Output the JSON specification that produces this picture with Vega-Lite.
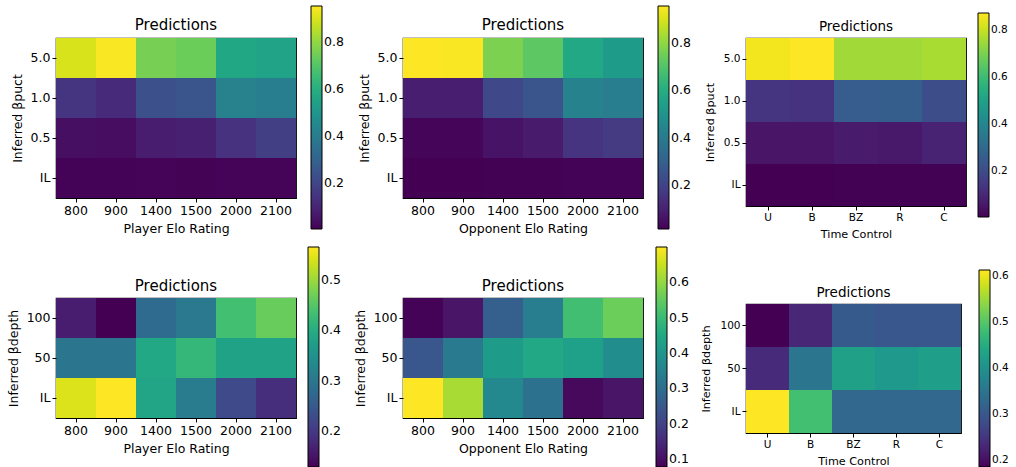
{
  "$schema": "https://vega.github.io/schema/vega-lite/v6.json",
  "padding": {"left": 6, "top": 5, "right": 2, "bottom": 1},
  "background": "white",
  "datasets": {
    "p1": [
      {"x": "800", "y": "5.0", "v": 0.90}, {"x": "900", "y": "5.0", "v": 0.95}, {"x": "1400", "y": "5.0", "v": 0.76}, {"x": "1500", "y": "5.0", "v": 0.74}, {"x": "2000", "y": "5.0", "v": 0.57}, {"x": "2100", "y": "5.0", "v": 0.555},
      {"x": "800", "y": "1.0", "v": 0.15}, {"x": "900", "y": "1.0", "v": 0.12}, {"x": "1400", "y": "1.0", "v": 0.235}, {"x": "1500", "y": "1.0", "v": 0.255}, {"x": "2000", "y": "1.0", "v": 0.42}, {"x": "2100", "y": "1.0", "v": 0.405},
      {"x": "800", "y": "0.5", "v": 0.04}, {"x": "900", "y": "0.5", "v": 0.035}, {"x": "1400", "y": "0.5", "v": 0.075}, {"x": "1500", "y": "0.5", "v": 0.085}, {"x": "2000", "y": "0.5", "v": 0.14}, {"x": "2100", "y": "0.5", "v": 0.18},
      {"x": "800", "y": "IL", "v": 0.01}, {"x": "900", "y": "IL", "v": 0.01}, {"x": "1400", "y": "IL", "v": 0.012}, {"x": "1500", "y": "IL", "v": 0.011}, {"x": "2000", "y": "IL", "v": 0.013}, {"x": "2100", "y": "IL", "v": 0.012}
    ],
    "p2": [
      {"x": "800", "y": "5.0", "v": 0.955}, {"x": "900", "y": "5.0", "v": 0.95}, {"x": "1400", "y": "5.0", "v": 0.77}, {"x": "1500", "y": "5.0", "v": 0.72}, {"x": "2000", "y": "5.0", "v": 0.58}, {"x": "2100", "y": "5.0", "v": 0.53},
      {"x": "800", "y": "1.0", "v": 0.09}, {"x": "900", "y": "1.0", "v": 0.09}, {"x": "1400", "y": "1.0", "v": 0.22}, {"x": "1500", "y": "1.0", "v": 0.26}, {"x": "2000", "y": "1.0", "v": 0.43}, {"x": "2100", "y": "1.0", "v": 0.41},
      {"x": "800", "y": "0.5", "v": 0.025}, {"x": "900", "y": "0.5", "v": 0.025}, {"x": "1400", "y": "0.5", "v": 0.06}, {"x": "1500", "y": "0.5", "v": 0.08}, {"x": "2000", "y": "0.5", "v": 0.155}, {"x": "2100", "y": "0.5", "v": 0.175},
      {"x": "800", "y": "IL", "v": 0.015}, {"x": "900", "y": "IL", "v": 0.015}, {"x": "1400", "y": "IL", "v": 0.017}, {"x": "1500", "y": "IL", "v": 0.018}, {"x": "2000", "y": "IL", "v": 0.02}, {"x": "2100", "y": "IL", "v": 0.02}
    ],
    "p3": [
      {"x": "U", "y": "5.0", "v": 0.855}, {"x": "B", "y": "5.0", "v": 0.87}, {"x": "BZ", "y": "5.0", "v": 0.75}, {"x": "R", "y": "5.0", "v": 0.75}, {"x": "C", "y": "5.0", "v": 0.76},
      {"x": "U", "y": "1.0", "v": 0.135}, {"x": "B", "y": "1.0", "v": 0.13}, {"x": "BZ", "y": "1.0", "v": 0.255}, {"x": "R", "y": "1.0", "v": 0.26}, {"x": "C", "y": "1.0", "v": 0.205},
      {"x": "U", "y": "0.5", "v": 0.05}, {"x": "B", "y": "0.5", "v": 0.05}, {"x": "BZ", "y": "0.5", "v": 0.065}, {"x": "R", "y": "0.5", "v": 0.06}, {"x": "C", "y": "0.5", "v": 0.085},
      {"x": "U", "y": "IL", "v": 0.006}, {"x": "B", "y": "IL", "v": 0.006}, {"x": "BZ", "y": "IL", "v": 0.007}, {"x": "R", "y": "IL", "v": 0.007}, {"x": "C", "y": "IL", "v": 0.008}
    ],
    "p4": [
      {"x": "800", "y": "100", "v": 0.16}, {"x": "900", "y": "100", "v": 0.128}, {"x": "1400", "y": "100", "v": 0.28}, {"x": "1500", "y": "100", "v": 0.305}, {"x": "2000", "y": "100", "v": 0.435}, {"x": "2100", "y": "100", "v": 0.465},
      {"x": "800", "y": "50", "v": 0.30}, {"x": "900", "y": "50", "v": 0.30}, {"x": "1400", "y": "50", "v": 0.39}, {"x": "1500", "y": "50", "v": 0.42}, {"x": "2000", "y": "50", "v": 0.38}, {"x": "2100", "y": "50", "v": 0.38},
      {"x": "800", "y": "IL", "v": 0.544}, {"x": "900", "y": "IL", "v": 0.566}, {"x": "1400", "y": "IL", "v": 0.385}, {"x": "1500", "y": "IL", "v": 0.31}, {"x": "2000", "y": "IL", "v": 0.225}, {"x": "2100", "y": "IL", "v": 0.185}
    ],
    "p5": [
      {"x": "800", "y": "100", "v": 0.08}, {"x": "900", "y": "100", "v": 0.11}, {"x": "1400", "y": "100", "v": 0.265}, {"x": "1500", "y": "100", "v": 0.34}, {"x": "2000", "y": "100", "v": 0.51}, {"x": "2100", "y": "100", "v": 0.56},
      {"x": "800", "y": "50", "v": 0.245}, {"x": "900", "y": "50", "v": 0.33}, {"x": "1400", "y": "50", "v": 0.42}, {"x": "1500", "y": "50", "v": 0.45}, {"x": "2000", "y": "50", "v": 0.43}, {"x": "2100", "y": "50", "v": 0.38},
      {"x": "800", "y": "IL", "v": 0.70}, {"x": "900", "y": "IL", "v": 0.62}, {"x": "1400", "y": "IL", "v": 0.37}, {"x": "1500", "y": "IL", "v": 0.31}, {"x": "2000", "y": "IL", "v": 0.09}, {"x": "2100", "y": "IL", "v": 0.11}
    ],
    "p6": [
      {"x": "U", "y": "100", "v": 0.185}, {"x": "B", "y": "100", "v": 0.23}, {"x": "BZ", "y": "100", "v": 0.305}, {"x": "R", "y": "100", "v": 0.30}, {"x": "C", "y": "100", "v": 0.30},
      {"x": "U", "y": "50", "v": 0.235}, {"x": "B", "y": "50", "v": 0.35}, {"x": "BZ", "y": "50", "v": 0.43}, {"x": "R", "y": "50", "v": 0.415}, {"x": "C", "y": "50", "v": 0.425},
      {"x": "U", "y": "IL", "v": 0.613}, {"x": "B", "y": "IL", "v": 0.485}, {"x": "BZ", "y": "IL", "v": 0.325}, {"x": "R", "y": "IL", "v": 0.325}, {"x": "C", "y": "IL", "v": 0.325}
    ]
  },
  "concat": [
    {
      "concat": [
        {
          "width": 240, "height": 160,
          "title": {"text": "Predictions", "offset": -27},
          "data": {"name": "p1"},
          "mark": {"type": "rect"},
          "encoding": {
            "x": {"field": "x", "type": "nominal", "sort": ["800", "900", "1400", "1500", "2000", "2100"], "title": "Player Elo Rating", "scale": {"paddingInner": 0, "paddingOuter": 0}, "axis": {"labelAngle": 0}},
            "y": {"field": "y", "type": "nominal", "sort": ["5.0", "1.0", "0.5", "IL"], "title": "Inferred βpuct", "scale": {"paddingInner": 0, "paddingOuter": 0}},
            "color": {"field": "v", "type": "quantitative", "scale": {"scheme": "viridis", "domain": [0.005, 0.955]},
              "legend": {"orient": "none", "direction": "vertical", "legendX": 255, "legendY": -32, "gradientLength": 223, "gradientThickness": 11, "values": [0.2, 0.4, 0.6, 0.8], "format": ".1f", "title": null}}
          }
        },
        {
          "width": 240, "height": 120,
          "title": {"text": "Predictions", "offset": -47},
          "data": {"name": "p4"},
          "mark": {"type": "rect"},
          "encoding": {
            "x": {"field": "x", "type": "nominal", "sort": ["800", "900", "1400", "1500", "2000", "2100"], "title": "Player Elo Rating", "scale": {"paddingInner": 0, "paddingOuter": 0}, "axis": {"labelAngle": 0}},
            "y": {"field": "y", "type": "nominal", "sort": ["100", "50", "IL"], "title": "Inferred βdepth", "scale": {"paddingInner": 0, "paddingOuter": 0}},
            "color": {"field": "v", "type": "quantitative", "scale": {"scheme": "viridis", "domain": [0.128, 0.566]},
              "legend": {"orient": "none", "direction": "vertical", "legendX": 252, "legendY": -51, "gradientLength": 220, "gradientThickness": 11, "values": [0.2, 0.3, 0.4, 0.5], "format": ".1f", "title": null}}
          }
        }
      ],
      "columns": 1,
      "spacing": 10,
      "resolve": {"scale": {"color": "independent"}}
    },
    {
      "concat": [
        {
          "width": 240, "height": 160,
          "title": {"text": "Predictions", "offset": -27},
          "data": {"name": "p2"},
          "mark": {"type": "rect"},
          "encoding": {
            "x": {"field": "x", "type": "nominal", "sort": ["800", "900", "1400", "1500", "2000", "2100"], "title": "Opponent Elo Rating", "scale": {"paddingInner": 0, "paddingOuter": 0}, "axis": {"labelAngle": 0}},
            "y": {"field": "y", "type": "nominal", "sort": ["5.0", "1.0", "0.5", "IL"], "title": "Inferred βpuct", "scale": {"paddingInner": 0, "paddingOuter": 0}},
            "color": {"field": "v", "type": "quantitative", "scale": {"scheme": "viridis", "domain": [0.015, 0.955]},
              "legend": {"orient": "none", "direction": "vertical", "legendX": 255, "legendY": -32, "gradientLength": 223, "gradientThickness": 11, "values": [0.2, 0.4, 0.6, 0.8], "format": ".1f", "title": null}}
          }
        },
        {
          "width": 240, "height": 120,
          "title": {"text": "Predictions", "offset": -47},
          "data": {"name": "p5"},
          "mark": {"type": "rect"},
          "encoding": {
            "x": {"field": "x", "type": "nominal", "sort": ["800", "900", "1400", "1500", "2000", "2100"], "title": "Opponent Elo Rating", "scale": {"paddingInner": 0, "paddingOuter": 0}, "axis": {"labelAngle": 0}},
            "y": {"field": "y", "type": "nominal", "sort": ["100", "50", "IL"], "title": "Inferred βdepth", "scale": {"paddingInner": 0, "paddingOuter": 0}},
            "color": {"field": "v", "type": "quantitative", "scale": {"scheme": "viridis", "domain": [0.077, 0.70]},
              "legend": {"orient": "none", "direction": "vertical", "legendX": 253, "legendY": -51, "gradientLength": 220, "gradientThickness": 11, "values": [0.1, 0.2, 0.3, 0.4, 0.5, 0.6], "format": ".1f", "title": null}}
          }
        }
      ],
      "columns": 1,
      "spacing": 10,
      "resolve": {"scale": {"color": "independent"}}
    },
    {
      "concat": [
        {
          "width": 220, "height": 168,
          "title": {"text": "Predictions", "fontSize": 13.5, "offset": -20},
          "data": {"name": "p3"},
          "mark": {"type": "rect"},
          "encoding": {
            "x": {"field": "x", "type": "nominal", "sort": ["U", "B", "BZ", "R", "C"], "title": "Time Control", "scale": {"paddingInner": 0, "paddingOuter": 0}, "axis": {"labelAngle": 0, "labelFontSize": 10.5, "titleFontSize": 11.2}},
            "y": {"field": "y", "type": "nominal", "sort": ["5.0", "1.0", "0.5", "IL"], "title": "Inferred βpuct", "scale": {"paddingInner": 0, "paddingOuter": 0}, "axis": {"labelFontSize": 10.5, "titleFontSize": 11.2, "titlePadding": 8}},
            "color": {"field": "v", "type": "quantitative", "scale": {"scheme": "viridis", "domain": [0.005, 0.87]},
              "legend": {"orient": "none", "direction": "vertical", "legendX": 232, "legendY": -25, "gradientLength": 204, "gradientThickness": 11, "values": [0.2, 0.4, 0.6, 0.8], "format": ".1f", "title": null, "labelFontSize": 10.5}}
          }
        },
        {
          "width": 215, "height": 129,
          "title": {"text": "Predictions", "fontSize": 13.5, "offset": -29},
          "data": {"name": "p6"},
          "mark": {"type": "rect"},
          "encoding": {
            "x": {"field": "x", "type": "nominal", "sort": ["U", "B", "BZ", "R", "C"], "title": "Time Control", "scale": {"paddingInner": 0, "paddingOuter": 0}, "axis": {"labelAngle": 0, "labelFontSize": 10.5, "titleFontSize": 11.2}},
            "y": {"field": "y", "type": "nominal", "sort": ["100", "50", "IL"], "title": "Inferred βdepth", "scale": {"paddingInner": 0, "paddingOuter": 0}, "axis": {"labelFontSize": 10.5, "titleFontSize": 11.2, "titlePadding": 8}},
            "color": {"field": "v", "type": "quantitative", "scale": {"scheme": "viridis", "domain": [0.185, 0.613]},
              "legend": {"orient": "none", "direction": "vertical", "legendX": 233, "legendY": -34, "gradientLength": 197, "gradientThickness": 11, "values": [0.2, 0.3, 0.4, 0.5, 0.6], "format": ".1f", "title": null, "labelFontSize": 10.5}}
          }
        }
      ],
      "columns": 1,
      "spacing": 28,
      "resolve": {"scale": {"color": "independent"}}
    }
  ],
  "columns": 3,
  "spacing": 8,
  "resolve": {"scale": {"color": "independent"}},
  "config": {
    "font": "DejaVu Sans",
    "view": {"stroke": "black", "strokeWidth": 1.2},
    "axis": {"domain": false, "grid": false, "ticks": true, "tickColor": "black", "tickSize": 4, "labelPadding": 2, "labelColor": "black", "titleColor": "black", "labelFont": "DejaVu Sans", "titleFont": "DejaVu Sans", "titleFontWeight": "normal", "labelFontSize": 12.5, "titleFontSize": 12.5, "titlePadding": 6},
    "title": {"fontSize": 15, "fontWeight": "normal", "font": "DejaVu Sans", "color": "black", "frame": "group"},
    "legend": {"labelFont": "DejaVu Sans", "labelFontSize": 12.5, "labelColor": "black", "labelOffset": 7, "gradientStrokeColor": "black", "gradientStrokeWidth": 1, "padding": 0}
  }
}
